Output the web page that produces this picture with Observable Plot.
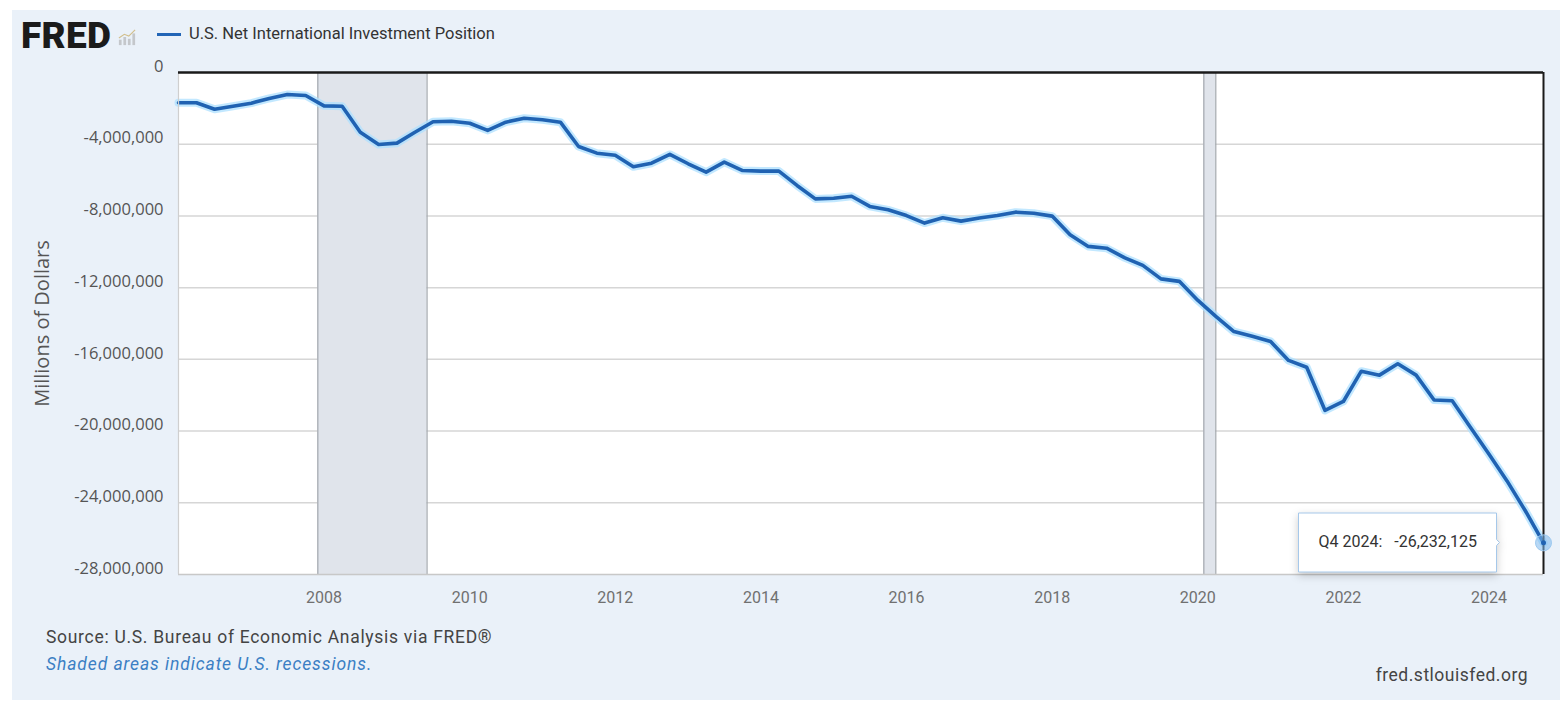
<!DOCTYPE html>
<html>
<head>
<meta charset="utf-8">
<script src="https://cdn.jsdelivr.net/npm/d3@7"></script>
<script src="https://cdn.jsdelivr.net/npm/@observablehq/plot@0.6"></script>
<style>
html, body { margin: 0; padding: 0; background: #ffffff; }
#wrap { position: relative; width: 1560px; height: 705px; overflow: hidden; background: #ffffff; font-family: Roboto, "Open Sans", sans-serif; }
#panel { position: absolute; left: 12px; top: 10px; width: 1548px; height: 690px; background: #eaf1f9; }
#chart { position: absolute; left: 0; top: 0; }
#logo { position: absolute; left: 21px; top: 17px; font: 900 37px/1 Roboto, sans-serif; color: #1b1b1b; letter-spacing: 0.3px; }
#icon { position: absolute; left: 118px; top: 28px; }
#legline { position: absolute; left: 157px; top: 33px; width: 24px; height: 3px; background: #2265b6; }
#legtext { position: absolute; left: 189px; top: 24px; font: 16.5px Roboto, sans-serif; color: #333; }
#source { position: absolute; left: 46px; top: 627px; font: 17.5px Roboto, sans-serif; color: #444; letter-spacing: 0.7px; }
#shaded { position: absolute; left: 46px; top: 654px; font: italic 17.5px Roboto, sans-serif; color: #3b7fc4; letter-spacing: 0.9px; }
#site { position: absolute; right: 32px; top: 665px; font: 17.5px Roboto, sans-serif; color: #444; letter-spacing: 0.5px; }
</style>
</head>
<body>
<div id="wrap">
  <div id="panel"></div>
  <div id="logo">FRED</div>
  <svg id="icon" width="18" height="18" viewBox="0 0 20 18">
    <rect x="1" y="12" width="3" height="6" fill="#c4c7cb"/>
    <rect x="6" y="9" width="3" height="9" fill="#c4c7cb"/>
    <rect x="11" y="11" width="3" height="7" fill="#c4c7cb"/>
    <rect x="16" y="5" width="3" height="13" fill="#c4c7cb"/>
    <polyline points="1,10 7,6 12,8 19,1" fill="none" stroke="#d2bf8c" stroke-width="1.3"/>
  </svg>
  <div id="legline"></div>
  <div id="legtext">U.S. Net International Investment Position</div>
  <div id="chart"></div>
  <div id="source">Source: U.S. Bureau of Economic Analysis via FRED®</div>
  <div id="shaded">Shaded areas indicate U.S. recessions.</div>
  <div id="site">fred.stlouisfed.org</div>
</div>
<script>
// Quarterly values, millions of dollars (Q1..Q4 of each year)
const years = [2006, 2007, 2008, 2009, 2010, 2011, 2012, 2013, 2014, 2015, 2016, 2017, 2018, 2019, 2020, 2021, 2022, 2023, 2024];
const quarterStartMonths = [0, 3, 6, 9];
const values = [
  -1690000, -1690000, -2050000, -1880000,     // 2006
  -1710000, -1450000, -1230000, -1280000,     // 2007
  -1860000, -1880000, -3330000, -4020000,     // 2008
  -3940000, -3330000, -2750000, -2720000,     // 2009
  -2830000, -3230000, -2770000, -2550000,     // 2010
  -2640000, -2770000, -4130000, -4500000,     // 2011
  -4620000, -5260000, -5060000, -4570000,     // 2012
  -5090000, -5560000, -5000000, -5470000,     // 2013
  -5500000, -5500000, -6300000, -7050000,     // 2014
  -7010000, -6900000, -7470000, -7660000,     // 2015
  -7980000, -8400000, -8100000, -8290000,     // 2016
  -8120000, -7980000, -7790000, -7850000,     // 2017
  -8010000, -9050000, -9700000, -9800000,     // 2018
  -10340000, -10760000, -11510000, -11650000, // 2019
  -12700000, -13600000, -14450000, -14710000, // 2020
  -15000000, -16060000, -16440000, -18850000, // 2021
  -18350000, -16660000, -16880000, -16250000, // 2022
  -16880000, -18270000, -18310000, -19800000, // 2023
  -21280000, -22780000, -24430000, -26232125  // 2024
];
const recessionStarts = ["2007-12-01", "2020-02-01"];
const recessionEnds = ["2009-06-01", "2020-04-01"];
const yTicks = [0, -4000000, -8000000, -12000000, -16000000, -20000000, -24000000, -28000000];
const xTickYears = [2008, 2010, 2012, 2014, 2016, 2018, 2020, 2022, 2024];
const yAxisTitle = "Millions of Dollars";
const tipLabel = "Q4 2024:\u00a0\u00a0 -26,232,125";

const data = [];
years.forEach((yr, yi) => quarterStartMonths.forEach((m, qi) => {
  data.push({date: new Date(Date.UTC(yr, m, 1)), value: values[yi * 4 + qi]});
}));
const recessions = recessionStarts.map((s, i) => ({start: new Date(s + "T00:00:00Z"), end: new Date(recessionEnds[i] + "T00:00:00Z")}));
const xTicks = xTickYears.map(y => new Date(Date.UTC(y, 0, 1)));
const xStart = data[0].date, xEnd = data[data.length - 1].date;
const last = data[data.length - 1];
const fmtY = d => d3.format(",")(d).replace("\u2212", "-");

const chart = Plot.plot({
  width: 1560,
  height: 705,
  marginLeft: 178,
  marginRight: 17,
  marginTop: 72,
  marginBottom: 131,
  style: {background: "transparent", fontFamily: "'Open Sans', sans-serif", overflow: "visible", color: "#333"},
  x: {type: "utc", domain: [xStart, xEnd], axis: null},
  y: {domain: [-28000000, 0], axis: null},
  marks: [
    Plot.frame({fill: "white", stroke: null}),
    Plot.ruleY(yTicks.slice(1, -1), {stroke: "#d6d6d6", strokeWidth: 1.5}),
    Plot.rect(recessions, {x1: "start", x2: "end", fill: "#e0e4eb"}),
    Plot.ruleX(recessions, {x: "start", stroke: "#a3a7ad", strokeWidth: 1.2}),
    Plot.ruleX(recessions, {x: "end", stroke: "#a3a7ad", strokeWidth: 1.2}),
    Plot.line(data, {x: "date", y: "value", stroke: "#aee0ff", strokeWidth: 8, strokeOpacity: 0.75}),
    Plot.line(data, {x: "date", y: "value", stroke: "#2062b2", strokeWidth: 3.6}),
    Plot.ruleY([-28000000], {stroke: "#c8c8c8", strokeWidth: 1.5}),
    Plot.ruleX([xStart], {stroke: "#cfcfcf", strokeWidth: 1.2}),
    Plot.ruleY([0], {stroke: "#1a1a1a", strokeWidth: 2.5}),
    Plot.ruleX([xEnd], {stroke: "#1a1a1a", strokeWidth: 2}),
    Plot.dot([last], {x: "date", y: "value", r: 8, fill: "#7db8ec", fillOpacity: 0.55, stroke: "#9cc9f0", strokeWidth: 1}),
    Plot.dot([last], {x: "date", y: "value", r: 2.5, fill: "#2062b2"}),
    Plot.tip([last], {x: "date", y: "value", title: () => tipLabel, anchor: "right", dx: -44, pointerSize: 6,
      fill: "white", stroke: "#a6c8ea", fontSize: 16, fontFamily: "Roboto, sans-serif", textPadding: 20}),
    Plot.axisY({ticks: yTicks, tickSize: 0, tickPadding: 15, dy: -6, tickFormat: fmtY, fontSize: 16.5, fill: "#555", label: null, fontFamily: "'Open Sans', sans-serif"}),
    Plot.axisX({ticks: xTicks, tickSize: 0, tickPadding: 17, tickFormat: d3.utcFormat("%Y"), fontSize: 16, fill: "#707070", label: null, fontFamily: "Roboto, sans-serif"}),
    Plot.text([yAxisTitle], {frameAnchor: "left", dx: -136, rotate: -90, textAnchor: "middle", fontSize: 20, fill: "#555", fontFamily: "'Open Sans', sans-serif"})
  ]
});
document.getElementById("chart").appendChild(chart);
</script>
</body>
</html>
